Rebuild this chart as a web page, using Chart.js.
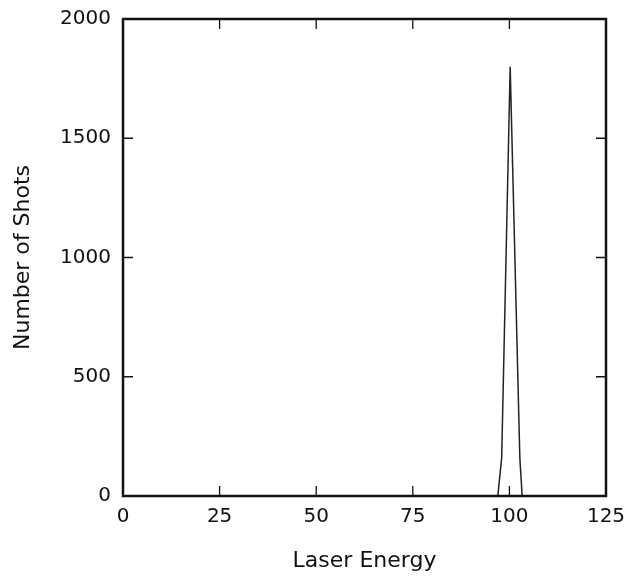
<!DOCTYPE html>
<html>
<head>
<meta charset="utf-8">
<script src="https://cdn.jsdelivr.net/npm/chart.js@4.4.1/dist/chart.umd.min.js"></script>
<style>
  html, body { margin: 0; padding: 0; background: #fff; }
  #box { width: 635px; height: 576px; }
</style>
</head>
<body>
<div id="box"><canvas id="grafico"></canvas></div>
<script>
// energia do laser e numero de disparos
const energia = [97, 98, 100.2, 102.7, 103.3];
const disparos = [0, 160, 1800, 160, 0];
const ticksX = [0, 25, 50, 75, 100, 125];
const ticksY = [0, 500, 1000, 1500, 2000];

const fonte = "'DejaVu Sans', sans-serif";

// moldura e marcas internas
const moldura = {
    id: 'moldura',
    afterDraw(chart) {
        const ctx = chart.ctx;
        const a = chart.chartArea;
        const sx = chart.scales.x;
        const sy = chart.scales.y;
        ctx.save();
        ctx.strokeStyle = '#111';
        ctx.lineWidth = 1.3;
        for (let i = 1; i < ticksX.length - 1; i++) {
            const px = sx.getPixelForValue(ticksX[i]);
            ctx.beginPath();
            ctx.moveTo(px, a.bottom); ctx.lineTo(px, a.bottom - 10);
            ctx.moveTo(px, a.top); ctx.lineTo(px, a.top + 10);
            ctx.stroke();
        }
        for (let i = 1; i < ticksY.length - 1; i++) {
            const py = sy.getPixelForValue(ticksY[i]);
            ctx.beginPath();
            ctx.moveTo(a.left, py); ctx.lineTo(a.left + 10, py);
            ctx.moveTo(a.right, py); ctx.lineTo(a.right - 10, py);
            ctx.stroke();
        }
        ctx.lineWidth = 2.5;
        ctx.strokeRect(a.left, a.top, a.right - a.left, a.bottom - a.top);
        ctx.restore();
    }
};

const pontos = [];
for (let i = 0; i < energia.length; i++) {
    pontos.push({ x: energia[i], y: disparos[i] });
}

new Chart(document.getElementById('grafico'), {
    type: 'line',
    data: {
        datasets: [{
            data: pontos,
            borderColor: '#222',
            borderWidth: 1.5,
            pointRadius: 0,
            tension: 0,
            fill: false
        }]
    },
    options: {
        responsive: true,
        maintainAspectRatio: false,
        animation: false,
        layout: { padding: { top: 19, right: 29, left: 0, bottom: 0 } },
        plugins: { legend: { display: false }, tooltip: { enabled: false } },
        scales: {
            x: {
                type: 'linear',
                min: 0,
                max: 125,
                afterBuildTicks: s => { s.ticks = ticksX.map(v => ({ value: v })); },
                afterFit: s => { s.height = 80; s.paddingLeft = 0; s.paddingRight = 0; },
                grid: { display: false, drawTicks: false },
                border: { display: false },
                ticks: { color: '#111', font: { family: fonte, size: 20 }, padding: 9, maxRotation: 0, callback: v => String(v) },
                title: { display: true, text: 'Laser Energy', color: '#111', font: { family: fonte, size: 22 }, padding: { top: 8, bottom: 2 } }
            },
            y: {
                min: 0,
                max: 2000,
                afterBuildTicks: s => { s.ticks = ticksY.map(v => ({ value: v })); },
                afterFit: s => { s.width = 123; s.paddingTop = 0; s.paddingBottom = 0; },
                grid: { display: false, drawTicks: false },
                border: { display: false },
                ticks: { color: '#111', font: { family: fonte, size: 20 }, padding: 12, callback: v => String(v) },
                title: { display: true, text: 'Number of Shots', color: '#111', font: { family: fonte, size: 22 }, padding: { top: 10, bottom: 0 } }
            }
        }
    },
    plugins: [moldura]
});
</script>
</body>
</html>
